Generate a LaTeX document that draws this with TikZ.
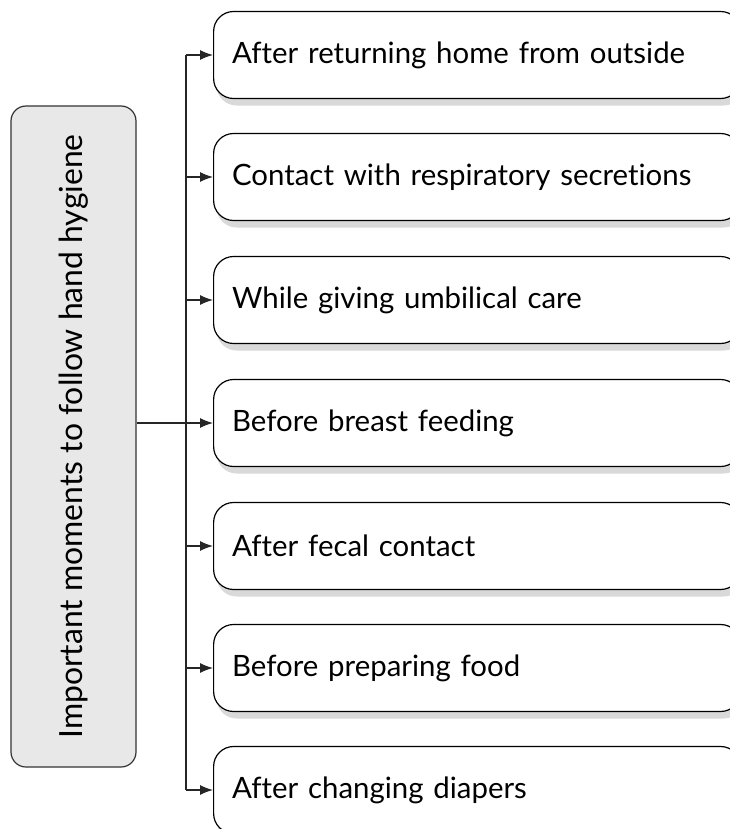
\documentclass[tikz,border=0pt]{standalone}
\usepackage{fontspec}
\setmainfont{Lato}[Ligatures=NoCommon]
\usetikzlibrary{arrows.meta,shadows}
\begin{document}
\begin{tikzpicture}[x=1bp,y=-1bp,
  item/.style={draw=black, line width=1.2bp, fill=white, rounded corners=20bp,
    minimum width=527bp, minimum height=87bp, anchor=west, text width=490bp,
    align=left, inner xsep=18bp, font=\fontsize{29.5}{34}\selectfont,
    drop shadow={shadow xshift=3bp, shadow yshift=-7bp, opacity=0.15, fill=black}},
  mainbox/.style={draw=black!80, line width=1.2bp, fill=gray!18, rounded corners=15bp,
    minimum width=125bp, minimum height=661bp},
  conn/.style={draw=black!85, line width=1.2bp},
  arr/.style={conn, -{Latex[length=13bp,width=10bp]}}]
\useasboundingbox (0,0) rectangle (730,829);
\node[mainbox] (m) at (73.5,436.5) {};
\node[rotate=90, font=\fontsize{32}{38}\selectfont] (mt) at (m.center) {Important moments to follow hand hygiene};
\node[item] (b1) at (213,55) {After returning home from outside};
\node[item] (b2) at (213,177) {Contact with respiratory secretions};
\node[item] (b3) at (213,300) {While giving umbilical care};
\node[item] (b4) at (213,423) {Before breast feeding};
\node[item] (b5) at (213,546) {After fecal contact};
\node[item] (b6) at (213,668) {Before preparing food};
\node[item] (b7) at (213,790) {After changing diapers};
\coordinate (t) at (186,55);
\coordinate (bt) at (186,790);
\draw[conn] (t) -- (bt);
\draw[arr] (m.east |- b4.west) -- (b4.west);
\foreach \i in {1,2,3,5,6,7} {
  \draw[arr] (t |- b\i.west) -- (b\i.west);
}
\end{tikzpicture}
\end{document}
